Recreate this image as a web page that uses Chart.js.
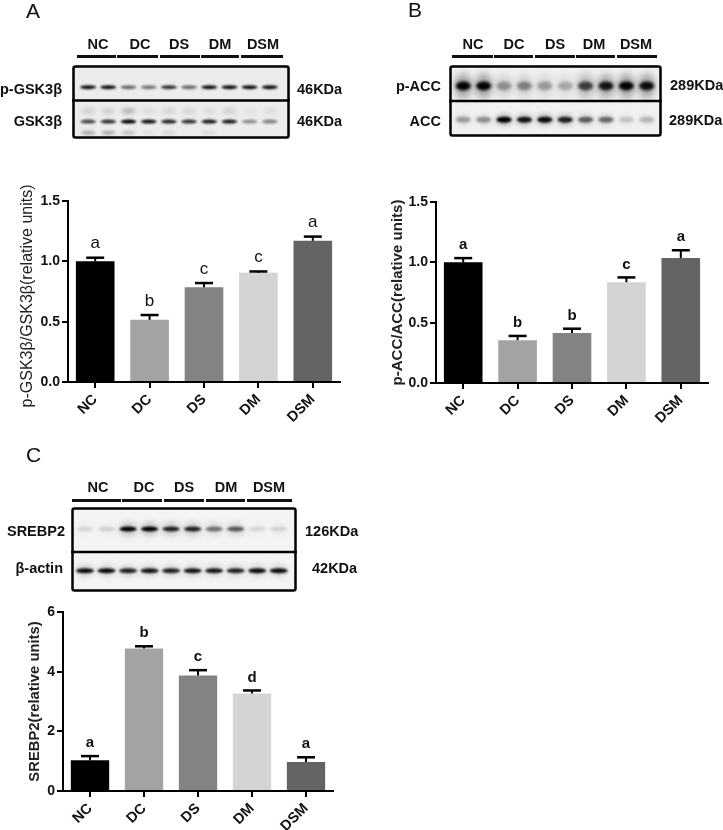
<!DOCTYPE html>
<html>
<head>
<meta charset="utf-8">
<title>Western blots and densitometry</title>
<script src="https://cdn.jsdelivr.net/npm/chart.js@4"></script>
<style>
  html, body { margin: 0; padding: 0; background: #fff; }
  #page { position: relative; width: 723px; height: 830px; overflow: hidden; font-family: "Liberation Sans", Arial, sans-serif; color: #111; filter: blur(0.35px); }
  canvas { position: absolute; }
  .txt { position: absolute; white-space: nowrap; font-weight: bold; font-size: 14.5px; line-height: 1; }
  .rule { position: absolute; height: 2.5px; background: #111; }
</style>
</head>
<body>
<div id="page"></div>
<script>
// group names shared by all panels
const groups = ["NC", "DC", "DS", "DM", "DSM"];
const barColors = ["#000000", "#a3a3a3", "#838383", "#d4d4d4", "#646464"];

// panel A
const gskValues = [1.0, 0.515, 0.785, 0.905, 1.17];
const gskErrorTops = [1.03, 0.555, 0.82, 0.916, 1.205];
const gskLetters = ["a", "b", "c", "c", "a"];
const gskTicks = [0, 0.5, 1, 1.5];

// panel B
const accValues = [1.0, 0.355, 0.415, 0.835, 1.035];
const accErrorTops = [1.035, 0.39, 0.45, 0.875, 1.1];
const accLetters = ["a", "b", "b", "c", "a"];
const accTicks = [0, 0.5, 1, 1.5];

// panel C
const srebpValues = [1.03, 4.78, 3.87, 3.27, 0.97];
const srebpErrorTops = [1.17, 4.85, 4.05, 3.37, 1.13];
const srebpLetters = ["a", "b", "c", "d", "a"];
const srebpTicks = [0, 2, 4, 6];

// blot band darkness per lane (0 to 1), read by eye
const pGskBands = [0.95, 0.95, 0.55, 0.5, 0.8, 0.55, 0.95, 0.95, 0.95, 0.95];
const gskBands = [0.7, 0.8, 1, 0.95, 0.85, 0.8, 0.9, 0.9, 0.4, 0.45];
const gskUpperBands = [0.13, 0.13, 0.25, 0.07, 0.1, 0.1, 0.07, 0.12, 0.04, 0.07];
const gskLowerBands = [0.3, 0.3, 0.2, 0.06, 0.1, 0, 0.08, 0, 0, 0];
const pAccBands = [1, 1, 0.35, 0.4, 0.3, 0.25, 0.7, 0.9, 1, 0.95];
const accBands = [0.3, 0.35, 1, 0.9, 0.95, 0.85, 0.55, 0.5, 0.15, 0.2];
const srebpBands = [0.1, 0.12, 1, 1, 0.85, 0.85, 0.5, 0.6, 0.1, 0.12];
const actinBands = [0.95, 0.95, 0.85, 0.9, 0.85, 0.9, 0.9, 0.85, 0.95, 0.95];

const page = document.getElementById("page");

/**
 * Absolute text, anchored vertically on its middle.
 */
function addText(text, x, y, align, extra) {
  const el = document.createElement("div");
  el.className = "txt";
  el.textContent = text;
  el.style.left = x + "px";
  el.style.top = y + "px";
  const shift = align === "right" ? "-100%" : align === "center" ? "-50%" : "0";
  el.style.transform = `translate(${shift}, -50%)`;
  Object.assign(el.style, extra || {});
  page.appendChild(el);
}

function addCanvas(left, top, width, height) {
  const canvas = document.createElement("canvas");
  canvas.width = width;
  canvas.height = height;
  canvas.style.left = left + "px";
  canvas.style.top = top + "px";
  canvas.style.width = width + "px";
  canvas.style.height = height + "px";
  page.appendChild(canvas);
  return canvas;
}

/**
 * Group names over the blot, with the rule under each of them.
 */
function addGroupHeader(centers, rules, textY, ruleY) {
  groups.forEach((name, i) => {
    addText(name, centers[i], textY, "center");
    const rule = document.createElement("div");
    rule.className = "rule";
    rule.style.left = rules[i][0] + "px";
    rule.style.width = rules[i][1] - rules[i][0] + "px";
    rule.style.top = ruleY + "px";
    page.appendChild(rule);
  });
}

// error bars and significance letters, placed through the chart's scales
const errorBarPlugin = {
  id: "errorBars",
  afterDatasetsDraw(chart, args, opts) {
    const ctx = chart.ctx;
    const y = chart.scales.y;
    const bars = chart.getDatasetMeta(0).data;
    ctx.save();
    bars.forEach((bar, i) => {
      const top = y.getPixelForValue(opts.tops[i]);
      ctx.strokeStyle = "#000";
      ctx.lineWidth = 2;
      ctx.beginPath();
      ctx.moveTo(bar.x, bar.y);
      ctx.lineTo(bar.x, top);
      ctx.stroke();
      ctx.lineWidth = 2.5;
      ctx.beginPath();
      ctx.moveTo(bar.x - opts.cap / 2, top);
      ctx.lineTo(bar.x + opts.cap / 2, top);
      ctx.stroke();
      ctx.fillStyle = "#111";
      ctx.font = opts.letterFont;
      ctx.textAlign = "center";
      ctx.textBaseline = "middle";
      ctx.fillText(opts.letters[i], bar.x, top - opts.gap);
    });
    ctx.restore();
  }
};

/**
 * Bar chart with its axes pinned so the plot lands where the figure has it.
 */
function drawBarPanel(cfg) {
  const canvas = addCanvas(cfg.left, cfg.top, cfg.width, cfg.height);
  return new Chart(canvas, {
    type: "bar",
    data: {
      labels: groups,
      datasets: [{
        data: cfg.values,
        backgroundColor: barColors,
        borderWidth: 0,
        barPercentage: 0.71,
        categoryPercentage: 1
      }]
    },
    plugins: [errorBarPlugin],
    options: {
      responsive: false,
      animation: false,
      layout: { padding: { top: cfg.padTop, right: cfg.padRight, left: 0, bottom: 0 } },
      plugins: {
        legend: { display: false },
        tooltip: { enabled: false },
        errorBars: { tops: cfg.tops, letters: cfg.letters, cap: 18, gap: cfg.letterGap, letterFont: cfg.letterFont }
      },
      scales: {
        x: {
          afterFit(scale) { scale.height = cfg.xHeight; },
          border: { color: "#000", width: 2 },
          grid: { display: true, drawOnChartArea: false, color: "#000", lineWidth: 2, tickLength: 6, offset: false },
          ticks: {
            color: "#111",
            font: { family: "Liberation Sans", size: 14.5, weight: "bold" },
            minRotation: 45,
            maxRotation: 45,
            autoSkip: false,
            padding: 3
          }
        },
        y: {
          min: cfg.ticks[0],
          max: cfg.ticks[cfg.ticks.length - 1],
          afterFit(scale) { scale.width = cfg.axisX; },
          afterBuildTicks(scale) { scale.ticks = cfg.ticks.map((value) => ({ value })); },
          border: { color: "#000", width: 2 },
          grid: { display: true, drawOnChartArea: false, color: "#000", lineWidth: 2, tickLength: 6 },
          ticks: {
            color: "#111",
            font: { family: "Liberation Sans", size: 14, weight: "bold" },
            padding: 2,
            callback: (value) => (cfg.decimals ? Number(value).toFixed(cfg.decimals) : String(value))
          },
          title: {
            display: true,
            text: cfg.yTitle,
            color: "#222",
            font: { family: "Liberation Sans", size: cfg.yTitleSize, weight: cfg.yTitleWeight },
            padding: { top: cfg.yTitlePad, bottom: 0 }
          }
        }
      }
    }
  });
}

// soft gel bands: one ellipse per lane, taken from the scatter points
const blotPlugin = {
  id: "blot",
  beforeDatasetsDraw(chart, args, opts) {
    const ctx = chart.ctx;
    const area = chart.chartArea;
    ctx.save();
    ctx.fillStyle = opts.background;
    ctx.fillRect(area.left, area.top, area.width, area.height);
    chart.data.datasets.forEach((set, d) => {
      ctx.filter = `blur(${set.blur}px)`;
      ctx.fillStyle = "#000";
      chart.getDatasetMeta(d).data.forEach((pt, i) => {
        ctx.globalAlpha = Math.min(1, set.data[i].dark);
        ctx.beginPath();
        ctx.ellipse(pt.x, pt.y, set.bandW / 2, set.bandH / 2, 0, 0, Math.PI * 2);
        ctx.fill();
      });
    });
    ctx.restore();
  },
  afterDatasetsDraw(chart, args, opts) {
    const ctx = chart.ctx;
    const area = chart.chartArea;
    const split = chart.scales.y.getPixelForValue(opts.split);
    ctx.save();
    ctx.strokeStyle = "#000";
    ctx.lineWidth = 2.5;
    ctx.beginPath();
    ctx.moveTo(area.left, split);
    ctx.lineTo(area.right, split);
    ctx.stroke();
    ctx.beginPath();
    ctx.roundRect(area.left + 1.5, area.top + 1.5, area.width - 3, area.height - 3, 2);
    ctx.stroke();
    ctx.restore();
  }
};

function bandSet(bands, row, bandW, bandH, blur, scale) {
  return {
    data: bands.map((dark, i) => ({ x: i, y: row, dark: dark * (scale || 1) })),
    bandW, bandH, blur,
    pointRadius: 0
  };
}

/**
 * One blot frame, with lanes 0-9 on a hidden x scale and rows on a hidden y scale.
 */
function drawBlot(cfg) {
  const canvas = addCanvas(cfg.left, cfg.top, cfg.width, cfg.height);
  return new Chart(canvas, {
    type: "scatter",
    data: { datasets: cfg.sets },
    plugins: [blotPlugin],
    options: {
      responsive: false,
      animation: false,
      layout: { padding: 0 },
      plugins: {
        legend: { display: false },
        tooltip: { enabled: false },
        blot: { background: cfg.background, split: cfg.split }
      },
      scales: {
        x: { display: false, min: cfg.laneMin, max: cfg.laneMax },
        y: { display: false, min: 0, max: 1 }
      }
    }
  });
}

// ---- panel A ----
addText("A", 26, 10, "left", { fontSize: "21px", fontWeight: "normal" });
addGroupHeader([98, 140, 179, 220, 263], [[77, 116], [117, 158], [160, 200], [201, 239], [241, 283]], 44, 55);
drawBlot({
  left: 72, top: 65, width: 218, height: 74,
  laneMin: -0.8, laneMax: 10, split: 0.52, background: "#ececec",
  sets: [
    bandSet(pGskBands, 0.70, 16, 4, 0.9),
    bandSet(gskBands, 0.235, 16, 4, 0.9),
    bandSet(gskUpperBands, 0.38, 14, 6, 2),
    bandSet(gskLowerBands, 0.085, 14, 4, 1.5)
  ]
});
addText("p-GSK3β", 62, 89, "right");
addText("GSK3β", 62, 121, "right");
addText("46KDa", 297, 89, "left");
addText("46KDa", 297, 121, "left");
drawBarPanel({
  left: 0, top: 175, width: 360, height: 255,
  axisX: 68, padTop: 26, padRight: 20, xHeight: 48,
  values: gskValues, tops: gskErrorTops, letters: gskLetters, ticks: gskTicks, decimals: 1,
  letterGap: 14, letterFont: "17px 'Liberation Sans'",
  // trailing spaces nudge the centred title down to where the figure has it
  yTitle: "p-GSK3β/GSK3β(relative units)  ", yTitleSize: 16, yTitleWeight: "normal", yTitlePad: 18
});

// ---- panel B ----
addText("B", 408, 9, "left", { fontSize: "21px", fontWeight: "normal" });
addGroupHeader([473, 514, 555, 594, 636], [[452, 493], [494, 533], [535, 575], [576, 615], [617, 657]], 44, 55);
drawBlot({
  left: 449, top: 65, width: 213, height: 72,
  laneMin: -0.7, laneMax: 9.75, split: 0.5, background: "#f1f1f1",
  sets: [
    bandSet(pAccBands, 0.71, 18, 26, 3.5, 0.3),
    bandSet(pAccBands, 0.71, 15, 9, 1.5),
    bandSet(accBands, 0.24, 17, 12, 2.5, 0.25),
    bandSet(accBands, 0.24, 15, 6, 1.2)
  ]
});
addText("p-ACC", 441, 86, "right");
addText("ACC", 441, 121, "right");
addText("289KDa", 670, 85, "left");
addText("289KDa", 669, 120, "left");
drawBarPanel({
  left: 370, top: 175, width: 353, height: 255,
  axisX: 66, padTop: 27, padRight: 15, xHeight: 47,
  values: accValues, tops: accErrorTops, letters: accLetters, ticks: accTicks, decimals: 1,
  letterGap: 13, letterFont: "bold 15px 'Liberation Sans'",
  yTitle: "p-ACC/ACC(relative units)", yTitleSize: 15, yTitleWeight: "bold", yTitlePad: 19
});

// ---- panel C ----
addText("C", 26, 454, "left", { fontSize: "21px", fontWeight: "normal" });
addGroupHeader([98, 144, 184, 226, 269], [[72, 121], [122, 162], [164, 204], [206, 245], [247, 292]], 487, 499);
drawBlot({
  left: 71, top: 507, width: 226, height: 85,
  laneMin: -0.65, laneMax: 9.85, split: 0.47, background: "#f4f4f4",
  sets: [
    bandSet(srebpBands, 0.74, 18, 14, 3, 0.2),
    bandSet(srebpBands, 0.74, 17, 5, 1),
    bandSet(actinBands, 0.25, 18, 12, 3, 0.15),
    bandSet(actinBands, 0.25, 18, 5, 1)
  ]
});
addText("SREBP2", 65, 531, "right");
addText("β-actin", 63, 568, "right");
addText("126KDa", 305, 531, "left");
addText("42KDa", 312, 568, "left");
drawBarPanel({
  left: 0, top: 590, width: 360, height: 240,
  axisX: 63, padTop: 22, padRight: 27, xHeight: 39,
  values: srebpValues, tops: srebpErrorTops, letters: srebpLetters, ticks: srebpTicks, decimals: 0,
  letterGap: 13, letterFont: "bold 15px 'Liberation Sans'",
  yTitle: "SREBP2(relative units)", yTitleSize: 14.8, yTitleWeight: "bold", yTitlePad: 26
});
</script>
</body>
</html>
